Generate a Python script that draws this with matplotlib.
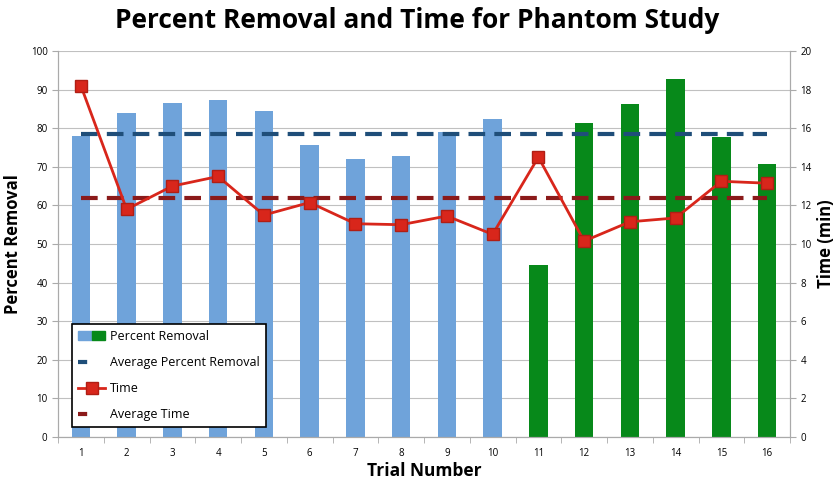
import matplotlib
matplotlib.use("Agg")
import matplotlib.pyplot as plt
from matplotlib.patches import Patch
from matplotlib.lines import Line2D
from matplotlib.legend_handler import HandlerTuple

plt.rcParams['font.family'] = ['Open Sans', 'DejaVu Sans']

trials = list(range(1, 17))
percent_removal = [78.0, 84.0, 86.6, 87.2, 84.5, 75.7, 72.1, 72.7, 78.9, 82.4,
                   44.6, 81.3, 86.3, 92.8, 77.6, 70.8]
time_min = [18.2, 11.8, 13.0, 13.5, 11.5, 12.15, 11.05, 11.0, 11.45, 10.5,
            14.5, 10.15, 11.15, 11.35, 13.25, 13.15]
avg_percent = 78.6
avg_time = 12.38
group = ['A'] * 10 + ['B'] * 6

blue = '#6FA3DA'
green = '#07891A'
bar_colors = [blue if g == 'A' else green for g in group]

fig = plt.figure(figsize=(8.34, 4.83), dpi=100)
ax = fig.add_axes([58/834, 46/483, 732/834, 386/483])
ax2 = ax.twinx()

ax.bar(trials, percent_removal, width=0.4, color=bar_colors, zorder=2)
ax.plot([trials[0], trials[-1]], [avg_percent, avg_percent], color='#1F4E79',
        lw=3, dashes=(4, 2.2), zorder=3)
ax.set_ylim(0, 100)
ax.set_xlim(0.5, 16.5)
ax.set_yticks(range(0, 101, 10))
ax.set_xticks(trials)
ax.set_xticks([x + 0.5 for x in range(0, 17)], minor=True)
ax.tick_params(axis='x', which='major', length=0, labelsize=7, pad=8)
ax.tick_params(axis='x', which='minor', length=4, color='#aaaaaa')
ax.tick_params(axis='y', length=4, color='#aaaaaa', labelsize=7)
ax.grid(axis='y', color='#c0c0c0', lw=0.8, zorder=0)
ax.set_axisbelow(True)
ax.spines['top'].set_visible(False)
for s in ['left', 'bottom', 'right']:
    ax.spines[s].set_color('#aaaaaa')
ax.set_ylabel('Percent Removal', fontsize=12, fontweight='bold', labelpad=6)
ax.set_xlabel('Trial Number', fontsize=12.5, fontweight='bold', labelpad=2)

ax2.plot([trials[0], trials[-1]], [avg_time, avg_time], color='#8B1A1A',
         lw=3, dashes=(4, 2.2), zorder=3)
ax2.plot(trials, time_min, color='#D8261B', lw=2, marker='s', markersize=9,
         markerfacecolor='#D8261B', markeredgecolor='#B01E14', zorder=4)
ax2.set_ylim(0, 20)
ax2.set_yticks(range(0, 21, 2))
ax2.tick_params(axis='y', length=4, color='#aaaaaa', labelsize=7)
ax2.spines['top'].set_visible(False)
for s in ['left', 'bottom', 'right']:
    ax2.spines[s].set_color('#aaaaaa')
ax2.set_ylabel('Time (min)', fontsize=12, fontweight='bold', labelpad=4)

fig.suptitle('Percent Removal and Time for Phantom Study', fontsize=19,
             fontweight='bold', y=0.985)

h_bar = (Patch(color=blue), Patch(color=green))
h_avgp = Line2D([], [], color='#1F4E79', lw=3, dashes=(2.2, 20))
h_time = Line2D([], [], color='#D8261B', lw=2, marker='s', markersize=9,
                markerfacecolor='#D8261B', markeredgecolor='#B01E14')
h_avgt = Line2D([], [], color='#8B1A1A', lw=3, dashes=(2.2, 20))
leg = ax2.legend([h_bar, h_avgp, h_time, h_avgt],
                 ['Percent Removal', 'Average Percent Removal', 'Time', 'Average Time'],
                 handler_map={tuple: HandlerTuple(ndivide=None, pad=0)},
                 loc='lower left', bbox_to_anchor=(8/732, 4/386), fontsize=9,
                 frameon=True, fancybox=False, edgecolor='black', framealpha=1,
                 handlelength=2.2, handletextpad=0.4, labelspacing=1.05,
                 borderpad=0.45)
leg.get_frame().set_linewidth(1.2)
leg.set_zorder(10)

fig.savefig('out.png', dpi=100)
